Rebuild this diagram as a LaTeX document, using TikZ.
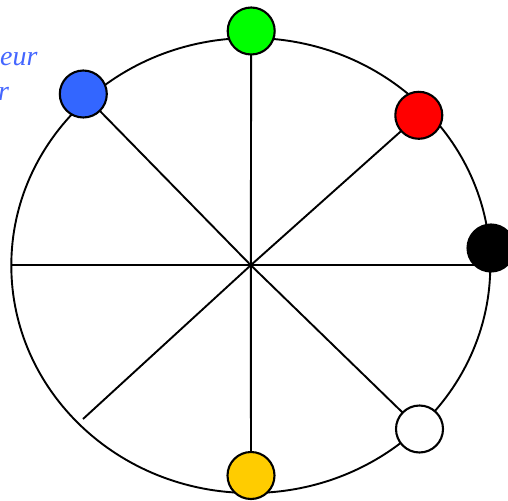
\documentclass[tikz,border=0pt]{standalone}
\usepackage{fontspec}
\setmainfont{Liberation Serif}
\usetikzlibrary{backgrounds}
\definecolor{cblue}{RGB}{51,102,255}
\definecolor{ctext}{RGB}{68,102,255}
\definecolor{cgreen}{RGB}{0,255,0}
\definecolor{cred}{RGB}{255,0,0}
\definecolor{cyellow}{RGB}{255,204,0}
\begin{document}
\begin{tikzpicture}[x=1pt,y=-1pt,
  wheel/.style={line width=1.9pt},
  spoke/.style={line width=1.9pt},
  dot/.style={circle,draw=black,line width=2.1pt,minimum size=47pt,inner sep=0pt},
  lab/.style={text=ctext,font=\itshape\fontsize{28}{33}\selectfont,inner sep=0pt,anchor=base west}]
\useasboundingbox (0,0) rectangle (508,500);
\coordinate (c) at (250.8,265.2);
\coordinate (l) at (11.3,265.2);
\coordinate (rt) at (489,265.2);
\coordinate (ll) at (83,419);
\node[dot,fill=cgreen] (green) at (251.2,31) {};
\node[dot,fill=cyellow] (yellow) at (251,475.5) {};
\node[dot,fill=cblue] (blue) at (83.3,94) {};
\node[dot,fill=cred] (red) at (418.8,115.3) {};
\node[dot,fill=white] (white) at (419.5,429) {};
\node[dot,fill=black] (black) at (491,248) {};
\begin{scope}[on background layer]
\draw[wheel] (250.8,265.5) ellipse [x radius=239.5, y radius=227.5];
\draw[spoke] (c) -- (l);
\draw[spoke] (c) -- (rt);
\draw[spoke] (c) -- (green.center);
\draw[spoke] (c) -- (yellow.center);
\draw[spoke] (c) -- (blue.center);
\draw[spoke] (c) -- (red.center);
\draw[spoke] (c) -- (white.center);
\draw[spoke] (c) -- (ll);
\end{scope}
\node[lab] (t1) at (0,66) {eur};
\node[lab] (t2) at (-2,101) {r};
\end{tikzpicture}
\end{document}
